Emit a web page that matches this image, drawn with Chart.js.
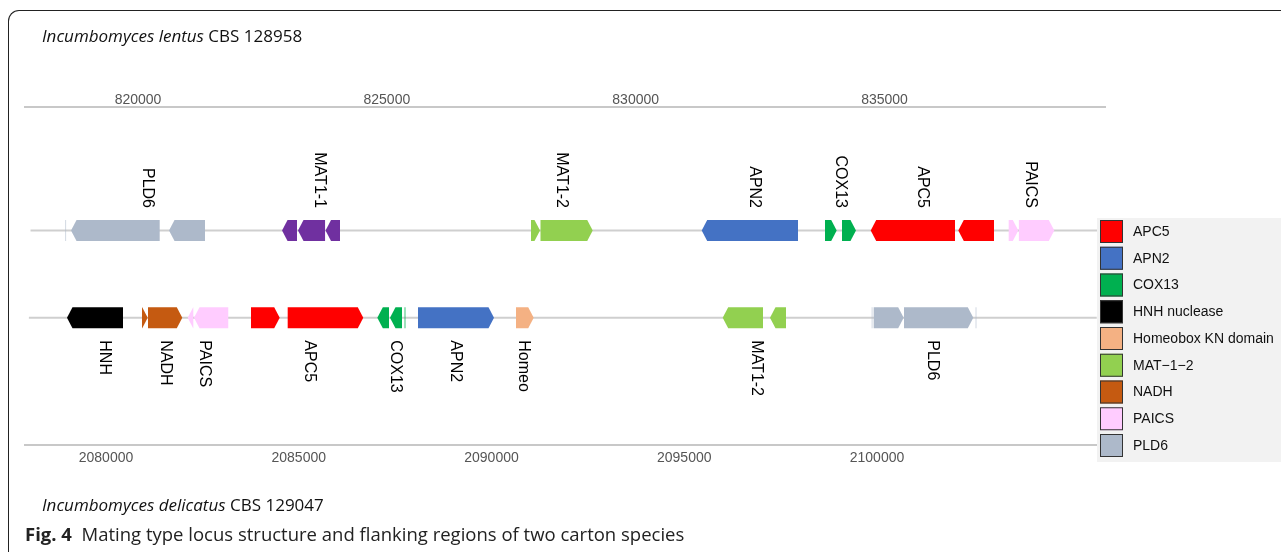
<!DOCTYPE html>
<html>
<head>
<meta charset="utf-8">
<script src="https://cdn.jsdelivr.net/npm/chart.js@4.4.1/dist/chart.umd.min.js"></script>
<style>
  body { margin: 0; background: #fff; }
  #wrap { position: relative; width: 1281px; height: 552px; overflow: hidden; }
  #frame { position: absolute; left: 8px; top: 10px; width: 1400px; height: 700px;
           border-top: 1px solid #222; border-left: 1px solid #222; border-top-left-radius: 11px; }
  canvas { position: absolute; left: 0; top: 0; }
  .species { position: absolute; left: 42px; font-family: "Open Sans", sans-serif; font-size: 17px;
             color: #111; white-space: nowrap; }
  #caption { position: absolute; left: 25px; top: 521px; font-family: "Open Sans", sans-serif;
             font-size: 18.5px; color: #222; white-space: nowrap; }
</style>
</head>
<body>
<div id="wrap">
  <div id="frame"></div>
  <canvas id="locus" width="1281" height="552"></canvas>
  <div class="species" style="top:24px"><i>Incumbomyces lentus</i> CBS 128958</div>
  <div class="species" style="top:493px"><i>Incumbomyces delicatus</i> CBS 129047</div>
  <div id="caption"><b>Fig. 4</b>&nbsp; Mating type locus structure and flanking regions of two carton species</div>
</div>
<script>
// legend order
const legendFamilies = ['APC5', 'APN2', 'COX13', 'HNH nuclease', 'Homeobox KN domain', 'MAT−1−2', 'NADH', 'PAICS', 'PLD6'];

// Incumbomyces lentus CBS 128958 (upper track)
const lentusTicks = [820000, 825000, 830000, 835000];
const lentusRange = [817840, 839290];
const lentusFamily = ['PLD6', 'PLD6', 'PLD6', 'MAT1-1', 'MAT1-1', 'MAT1-1', 'MAT−1−2', 'MAT−1−2', 'APN2',
    'COX13', 'COX13', 'APC5', 'APC5', 'PAICS', 'PAICS'];
const lentusStart = [818535, 818654, 820623, 822894, 823215, 823768, 827897, 828088, 831327,
    833805, 834146, 834723, 836483, 837496, 837700];
const lentusEnd = [818555, 820436, 821346, 823195, 823758, 824059, 828078, 829137, 833262,
    834040, 834427, 836417, 837200, 837689, 838412];
const lentusStrand = [-1, -1, -1, -1, -1, -1, 1, 1, -1, 1, 1, -1, -1, 1, 1];
const lentusLabels = ['PLD6', 'MAT1-1', 'MAT1-2', 'APN2', 'COX13', 'APC5', 'PAICS'];
const lentusLabelAt = [820191, 823637, 828512, 832390, 834112, 835760, 837934];

// Incumbomyces delicatus CBS 129047 (lower track)
const delicatusTicks = [2080000, 2085000, 2090000, 2095000, 2100000];
const delicatusRange = [2078000, 2105700];
const delicatusFamily = ['HNH nuclease', 'NADH', 'NADH', 'PAICS', 'PAICS', 'APC5', 'APC5', 'COX13', 'COX13', 'COX13',
    'APN2', 'Homeobox KN domain', 'MAT−1−2', 'MAT−1−2', 'PLD6', 'PLD6', 'PLD6', 'PLD6'];
const delicatusStart = [2078988, 2080934, 2081090, 2082119, 2082283, 2083761, 2084713, 2087038, 2087367, 2087738,
    2088093, 2090635, 2095997, 2097224, 2099860, 2099914, 2100700, 2102555];
const delicatusEnd = [2080441, 2081082, 2081979, 2082265, 2083172, 2084506, 2086674, 2087341, 2087678, 2087774,
    2090065, 2091095, 2097043, 2097639, 2099885, 2100692, 2102498, 2102580];
const delicatusStrand = [-1, 1, 1, -1, -1, 1, 1, -1, -1, -1, 1, 1, -1, -1, 1, 1, 1, 1];
const delicatusLabels = ['HNH', 'NADH', 'PAICS', 'APC5', 'COX13', 'APN2', 'Homeo', 'MAT1-2', 'PLD6'];
const delicatusLabelAt = [2079948, 2081549, 2082555, 2085266, 2087497, 2089071, 2090830, 2096874, 2101426];

const familyColor = {
    'APC5': '#ff0000',
    'APN2': '#4472c4',
    'COX13': '#00b050',
    'HNH nuclease': '#000000',
    'Homeobox KN domain': '#f4b183',
    'MAT−1−2': '#92d050',
    'MAT1-1': '#7030a0',
    'NADH': '#c55a11',
    'PAICS': '#ffccff',
    'PLD6': '#adb9ca'
};

const TIP = 5.5;      // arrow head length, px
const GENE_H = 21;

function drawPiece(ctx, a, b, yc, strand, color) {
    const left = Math.min(a, b), right = Math.max(a, b);
    const w = right - left;
    const top = yc - GENE_H / 2, bot = yc + GENE_H / 2;
    ctx.beginPath();
    if (w < 2) {
        // tiny exon, shows as a thin line
        ctx.globalAlpha = 0.55;
        ctx.rect(left, top, Math.max(w, 1), GENE_H);
    } else {
        const tip = Math.min(TIP, w);
        if (strand > 0) {
            ctx.moveTo(left, top);
            ctx.lineTo(right - tip, top);
            ctx.lineTo(right, yc);
            ctx.lineTo(right - tip, bot);
            ctx.lineTo(left, bot);
        } else {
            ctx.moveTo(right, top);
            ctx.lineTo(left + tip, top);
            ctx.lineTo(left, yc);
            ctx.lineTo(left + tip, bot);
            ctx.lineTo(right, bot);
        }
    }
    ctx.closePath();
    ctx.fillStyle = color;
    ctx.fill();
    ctx.globalAlpha = 1;
}

function drawTrack(chart, xScale, trackY, family, start, end, strand, labels, labelAt, above) {
    const ctx = chart.ctx;
    const yc = chart.scales.y.getPixelForValue(trackY);
    family.forEach((f, i) => {
        drawPiece(ctx, xScale.getPixelForValue(start[i]), xScale.getPixelForValue(end[i]), yc, strand[i], familyColor[f]);
    });

    ctx.save();
    ctx.font = '16px "Liberation Sans", Arial, sans-serif';
    ctx.fillStyle = '#000';
    ctx.textBaseline = 'middle';
    labels.forEach((txt, i) => {
        const x = xScale.getPixelForValue(labelAt[i]);
        ctx.save();
        if (above) {
            ctx.translate(x, yc - 22.5);
            ctx.rotate(Math.PI / 2);
            ctx.textAlign = 'right';
        } else {
            ctx.translate(x, yc + 22.5);
            ctx.rotate(Math.PI / 2);
            ctx.textAlign = 'left';
        }
        ctx.fillText(txt, 0, 0);
        ctx.restore();
    });
    ctx.restore();
}

const genePlugin = {
    id: 'geneArrows',
    afterDatasetsDraw(chart) {
        drawTrack(chart, chart.scales.xTop, 1, lentusFamily, lentusStart, lentusEnd, lentusStrand,
            lentusLabels, lentusLabelAt, true);
        drawTrack(chart, chart.scales.xBottom, 2, delicatusFamily, delicatusStart, delicatusEnd, delicatusStrand,
            delicatusLabels, delicatusLabelAt, false);
    },
    afterDraw(chart) {
        // legend panel
        const ctx = chart.ctx;
        const left = chart.chartArea.right - 8;
        ctx.save();
        ctx.fillStyle = '#f2f2f2';
        ctx.fillRect(left, 218, 1281 - left, 244);
        ctx.font = '14px "Liberation Sans", Arial, sans-serif';
        ctx.textBaseline = 'middle';
        legendFamilies.forEach((f, i) => {
            const y = 220 + i * 26.75;
            ctx.fillStyle = familyColor[f];
            ctx.fillRect(left + 3, y, 23, 23);
            ctx.strokeStyle = '#333';
            ctx.lineWidth = 1;
            ctx.strokeRect(left + 3.5, y + 0.5, 22, 22);
            ctx.fillStyle = '#111';
            ctx.fillText(f, left + 36, y + 12);
        });
        ctx.restore();
    }
};

function axisOptions(position, ticks, min, max, pad) {
    return {
        type: 'linear',
        position: position,
        min: min,
        max: max,
        grid: { display: false, drawTicks: false },
        border: { display: true, color: '#c8c8c8', width: 2 },
        ticks: {
            autoSkip: false,
            maxRotation: 0,
            padding: pad,
            color: '#555',
            font: { family: '"Liberation Sans", Arial, sans-serif', size: 14, lineHeight: '13px' },
            callback: v => String(v)
        },
        afterBuildTicks: axis => { axis.ticks = ticks.map(v => ({ value: v })); },
        afterFit: axis => { axis.height = 24; }
    };
}

const lineStyle = { borderColor: '#cfcfcf', borderWidth: 2, pointRadius: 0, showLine: true, yAxisID: 'y' };

const locusChart = new Chart(document.getElementById('locus'), {
    type: 'scatter',
    data: {
        datasets: [
            Object.assign({ label: 'I. lentus', xAxisID: 'xTop', data: lentusRange.map(v => ({ x: v, y: 1 })) }, lineStyle),
            Object.assign({ label: 'I. delicatus', xAxisID: 'xBottom', data: delicatusRange.map(v => ({ x: v, y: 2 })) }, lineStyle)
        ]
    },
    options: {
        responsive: false,
        animation: false,
        devicePixelRatio: 1,
        layout: { padding: { left: 25, right: 176, top: 83, bottom: 83 } },
        plugins: { legend: { display: false }, tooltip: { enabled: false } },
        scales: {
            xTop: axisOptions('top', lentusTicks, 817729, 839431, 0),
            xBottom: axisOptions('bottom', delicatusTicks, 2077899, 2105914, 7),
            y: { type: 'linear', display: false, reverse: true, min: -0.4147, max: 3.457 }
        }
    },
    plugins: [genePlugin]
});
</script>
</body>
</html>
